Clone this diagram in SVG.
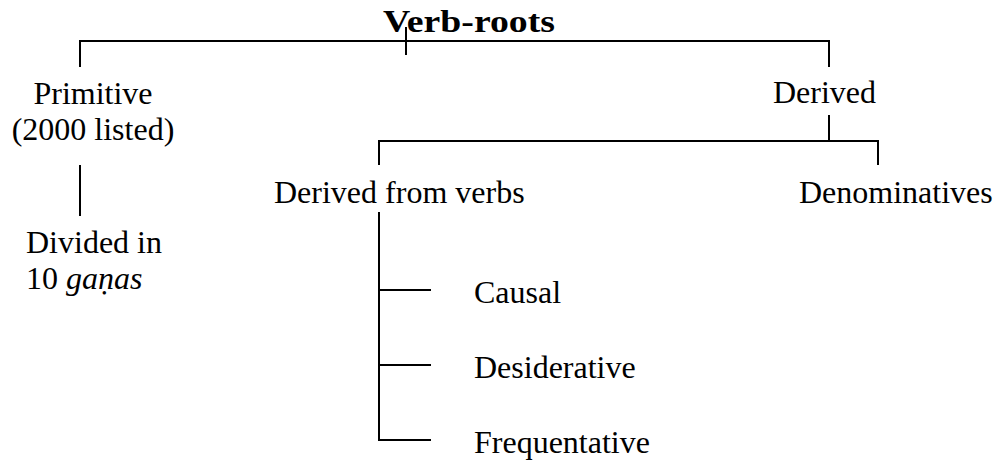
<svg xmlns="http://www.w3.org/2000/svg" width="997" height="464" viewBox="0 0 997 464">
<style>
text{font-family:"Liberation Serif","Times New Roman",serif;font-size:32px;fill:#000}
.b{font-weight:bold}
.c{text-anchor:middle}
.i{font-style:italic}
.conn line{stroke:#000;stroke-width:2;fill:none}
</style>
<rect width="997" height="464" fill="#fff"/>
<g id="connectors" class="conn">
<line x1="80" y1="41" x2="829" y2="41"/>
<line x1="80" y1="40" x2="80" y2="67"/>
<line x1="829" y1="40" x2="829" y2="67"/>
<line x1="406" y1="27" x2="406" y2="55"/>
<line x1="80" y1="165" x2="80" y2="216"/>
<line x1="829" y1="115" x2="829" y2="141"/>
<line x1="379" y1="141" x2="879" y2="141"/>
<line x1="379" y1="140" x2="379" y2="165"/>
<line x1="878" y1="140" x2="878" y2="165"/>
<line x1="379" y1="212" x2="379" y2="441"/>
<line x1="378" y1="290" x2="431" y2="290"/>
<line x1="378" y1="365" x2="431" y2="365"/>
<line x1="378" y1="440" x2="431" y2="440"/>
</g>
<g id="verb-roots"><text class="b" x="383" y="32" textLength="172" lengthAdjust="spacingAndGlyphs">Verb-roots</text></g>
<g id="primitive"><text class="c" x="93" y="104">Primitive</text><text class="c" x="93" y="140">(2000 listed)</text></g>
<g id="divided"><text x="26" y="253">Divided in</text><text x="26" y="289">10 <tspan class="i">gan&#x323;as</tspan></text></g>
<g id="derived"><text x="773" y="103">Derived</text></g>
<g id="derived-from-verbs"><text x="274" y="203">Derived from verbs</text></g>
<g id="denominatives"><text x="799" y="203">Denominatives</text></g>
<g id="causal"><text x="474" y="303">Causal</text></g>
<g id="desiderative"><text x="474" y="378">Desiderative</text></g>
<g id="frequentative"><text x="474" y="453">Frequentative</text></g>
</svg>
